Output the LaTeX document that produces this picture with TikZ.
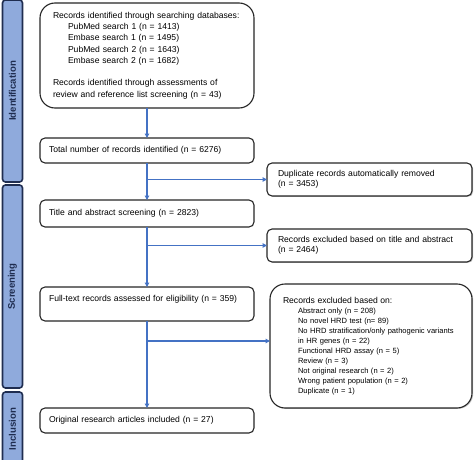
\documentclass[tikz,border=0pt]{standalone}
\usepackage{fontspec}
\setmainfont{Liberation Sans}
\usetikzlibrary{arrows.meta,shadows}
\definecolor{barfill}{HTML}{8FAADC}
\definecolor{barline}{HTML}{1F2D50}
\definecolor{arrowblue}{HTML}{4472C4}
\newcommand{\mainsz}{\fontsize{8.6}{11.3}\selectfont}
\newcommand{\rightsz}{\fontsize{8.6}{10.4}\selectfont}
\newcommand{\itemsz}{\fontsize{7.55}{10}\selectfont}
\begin{document}
\begin{tikzpicture}[x=1pt,y=-1pt,
  box/.style={draw=black!85, line width=1.1pt, rounded corners=5pt, anchor=north west,
    align=left, font=\mainsz, inner ysep=0pt, outer sep=0pt, fill=white},
  sidebox/.style={box, font=\rightsz, drop shadow={shadow xshift=1.2pt, shadow yshift=-0.8pt, fill=black!45}},
  arr/.style={draw=arrowblue, line width=1.1pt, -{Triangle[length=4.5pt,width=4.5pt]}},
  bar/.style={draw=barline, fill=barfill, line width=1.6pt, rounded corners=3pt, rotate=90,
    minimum height=20pt, inner sep=0pt, font=\bfseries\fontsize{9.6}{11}\selectfont, text=barline}
]
\useasboundingbox (0,0) rectangle (474,460);

% phase bars
\node[bar, minimum width=182pt] (s1) at (12.5,91) {Identification};
\node[bar, minimum width=203pt] (s2) at (12.5,286.5) {Screening};
\node[bar, minimum width=74pt] (s3) at (12.5,429) {Inclusion};

% main column
\node[box, rounded corners=15pt, minimum width=214pt, minimum height=105pt, inner xsep=13pt, text width=188pt] (b1) at (40,3)
 {Records identified through searching databases:\\
  \hspace*{15pt}PubMed search 1 (n = 1413)\\
  \hspace*{15pt}Embase search 1 (n = 1495)\\
  \hspace*{15pt}PubMed search 2 (n = 1643)\\
  \hspace*{15pt}Embase search 2 (n = 1682)\\
  \mbox{}\\
  Records identified through assessments of\\
  review and reference list screening (n = 43)};

\node[box, minimum width=214pt, minimum height=25pt, inner xsep=9pt, text width=196pt] (b2) at (40,138)
 {Total number of records identified (n = 6276)};

\node[box, minimum width=214pt, minimum height=27pt, inner xsep=9pt, text width=196pt] (b3) at (40,200)
 {Title and abstract screening (n = 2823)};

\node[box, minimum width=214pt, minimum height=34pt, inner xsep=9pt, text width=196pt] (b4) at (40,287)
 {Full-text records assessed for eligibility (n = 359)\\ \mbox{}};

\node[box, minimum width=214pt, minimum height=25pt, inner xsep=9pt, text width=196pt] (b5) at (40,408)
 {Original research articles included (n = 27)};

% side column
\node[sidebox, minimum width=205pt, minimum height=33pt, inner xsep=11pt, text width=183pt] (d1) at (267,163)
 {Duplicate records automatically removed\\(n = 3453)};

\node[sidebox, minimum width=205pt, minimum height=33pt, inner xsep=11pt, text width=183pt] (d2) at (267,229)
 {Records excluded based on title and abstract\\(n = 2464)};

\node[sidebox, rounded corners=15pt, minimum width=202pt, minimum height=124pt, inner xsep=13pt, text width=176pt, font=\itemsz] (d3) at (270,284)
 {{\fontsize{8.6}{10}\selectfont Records excluded based on:}\\
  \hspace*{15pt}Abstract only (n = 208)\\
  \hspace*{15pt}No novel HRD test (n= 89)\\
  \hspace*{15pt}No HRD stratification/only pathogenic variants\\
  \hspace*{15pt}in HR genes (n = 22)\\
  \hspace*{15pt}Functional HRD assay (n = 5)\\
  \hspace*{15pt}Review (n = 3)\\
  \hspace*{15pt}Not original research (n = 2)\\
  \hspace*{15pt}Wrong patient population (n = 2)\\
  \hspace*{15pt}Duplicate (n = 1)};

% connectors
\draw[arr] (b1.south) -- (b2.north);
\draw[arr] (b2.south) -- (b3.north);
\draw[arr] (b2.south |- d1.west) -- (d1.west);
\draw[arr] (b3.south) -- (b4.north);
\draw[arr] (b3.south |- d2.west) -- (d2.west);
\draw[arr] (b4.south) -- (b5.north);
\coordinate (j3) at ([yshift=-20pt]b4.south);
\draw[arr] (j3) -- (j3 -| d3.west);
\end{tikzpicture}
\end{document}
